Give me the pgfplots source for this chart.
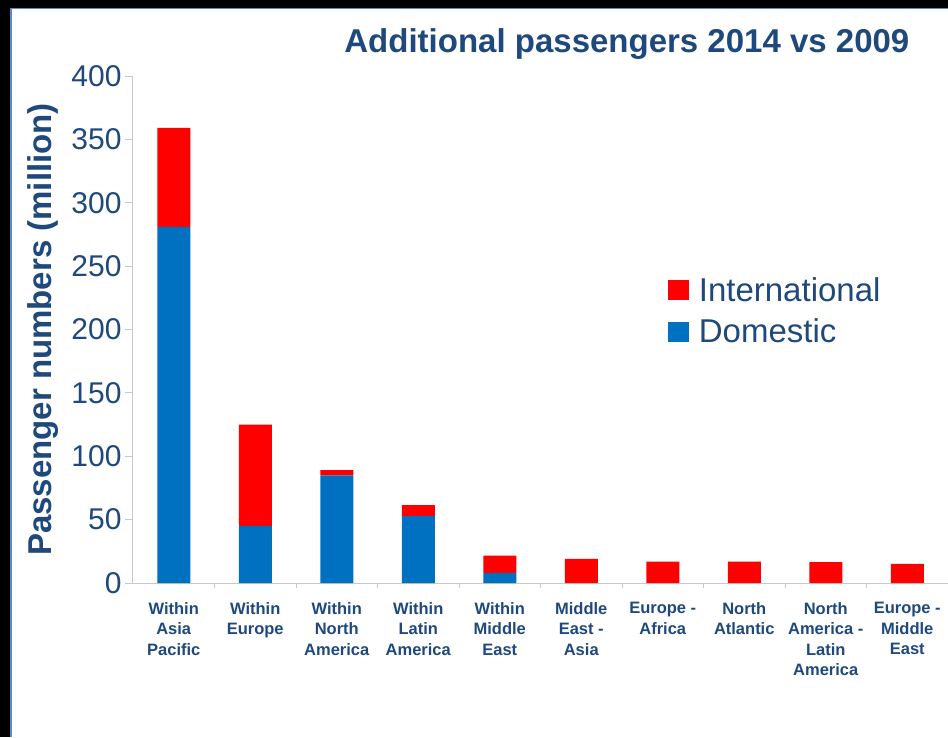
\documentclass[border=0pt]{standalone}
\usepackage{pgfplots}
\pgfplotsset{compat=1.18}
\usepackage{pgfplotstable}
\usepackage{fontspec}
\setmainfont{Liberation Sans}

\definecolor{txtblue}{RGB}{31,73,125}
\definecolor{barred}{RGB}{255,0,0}
\definecolor{barblue}{RGB}{0,112,192}
\definecolor{axgray}{RGB}{200,200,200}
\definecolor{edgeblue}{RGB}{90,140,200}

% additional passengers (million), 2014 vs 2009
\pgfplotstableread{
x dom intl
0 281 78
1 45 80
2 85 4
3 53 8.5
4 8 13.5
5 0 19
6 0 16.8
7 0 16.8
8 0 16.4
9 0 15
}\datatable

\begin{document}
\begin{tikzpicture}
\useasboundingbox (0pt,0pt) rectangle (948pt,737pt);
\fill[black] (0pt,0pt) rectangle (948pt,737pt);
\fill[white] (10pt,0pt) rectangle (948pt,729pt);
\draw[edgeblue, line width=1.5pt] (10.75pt,0pt) -- (10.75pt,728.25pt) -- (948pt,728.25pt);
\begin{axis}[
		at={(133pt,154pt)},
		anchor=south west,
		scale only axis,
		width=815pt,
		height=507pt,
		ybar stacked,
		bar width=33pt,
		xmin=-0.5, xmax=9.5,
		ymin=0, ymax=400,
		axis x line*=bottom,
		axis y line*=left,
		axis line style={-, draw=axgray, line width=1pt},
		ytick={0,50,...,400},
		xtick={0,...,9},
		minor xtick={0.5,1.5,...,8.5},
		tick align=outside,
		major tick length=8pt,
		minor tick length=5pt,
		tick style={axgray, line width=0.8pt},
		major x tick style={draw=none},
		xticklabels={
				{Within\\Asia\\Pacific},
				{Within\\Europe},
				{Within\\North\\America},
				{Within\\Latin\\America},
				{Within\\Middle\\East},
				{Middle\\East -\\Asia},
				{Europe -\\Africa},
				{North\\Atlantic},
				{North\\America -\\Latin\\America},
				{Europe -\\Middle\\East}
			},
		xticklabel style={font=\fontsize{16.5}{20.5}\selectfont\bfseries, text=txtblue,
				align=center, anchor=north, inner sep=0pt, yshift=-11pt},
		yticklabel style={font=\fontsize{30}{36}\selectfont, text=txtblue},
		/pgf/number format/assume math mode=true,
		ylabel={Passenger numbers (million)},
		ylabel style={font=\fontsize{33}{40}\selectfont\bfseries, text=txtblue,
				at={(axis description cs:-0.1006,0.5)}, anchor=base},
		title={Additional passengers 2014 vs 2009},
		title style={font=\fontsize{33}{40}\selectfont\bfseries, text=txtblue,
				at={(axis description cs:0.606,1)}, anchor=base, yshift=18pt},
		reverse legend,
		legend cell align=left,
		legend image code/.code={\fill[#1] (0pt,-10pt) rectangle (21pt,10pt);},
		legend style={at={(axis description cs:0.656,0.603)}, anchor=north west,
				draw=none, fill=none, inner sep=0pt, row sep=16pt,
				nodes={inner sep=0pt},
				/tikz/every odd column/.append style={column sep=10pt},
				font=\fontsize{33}{40}\selectfont, text=txtblue},
	]
	\addplot[fill=barblue, draw=none] table[x=x, y=dom] {\datatable};
	\addplot[fill=barred, draw=none] table[x=x, y=intl] {\datatable};
	\legend{Domestic, International}
\end{axis}
\end{tikzpicture}
\end{document}
